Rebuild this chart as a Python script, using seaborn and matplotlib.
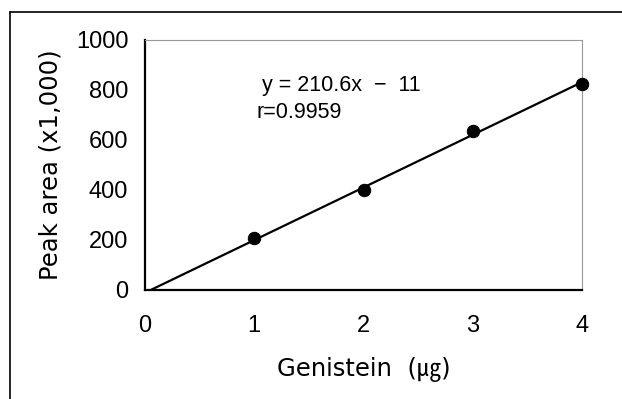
import matplotlib
matplotlib.use("Agg")
import matplotlib.pyplot as plt
import seaborn as sns
import numpy as np
import pandas as pd
from matplotlib.lines import Line2D

# Data
amount_ug = [1, 2, 3, 4]
peak_area = [208, 400, 636, 824]
slope = 210.6
intercept = -11
equation_text = "y = 210.6x  \u2212  11"
r_text = "r=0.9959"
x_ticks = [0, 1, 2, 3, 4]
y_ticks = [0, 200, 400, 600, 800, 1000]
x_label = "Genistein  (\u338d)"
y_label = "Peak area (x1,000)"

df = pd.DataFrame({"amount": amount_ug, "area": peak_area})

sns.set_theme(style="white")
plt.rcParams['font.family'] = ['Liberation Sans', 'Noto Sans CJK KR', 'DejaVu Sans']
plt.rcParams.update({"text.color": "black", "axes.labelcolor": "black",
                     "xtick.color": "black", "ytick.color": "black"})

fig = plt.figure(figsize=(6.22, 3.99), dpi=100)
ax = fig.add_axes([145/622, 1-290/399, (582-145)/622, (290-40)/399])

# regression line from x-intercept to 4
x0 = -intercept / slope
fit = pd.DataFrame({"amount": [x0, 4], "area": [slope*x0 + intercept, slope*4 + intercept]})
sns.lineplot(data=fit, x="amount", y="area", ax=ax, color="black", lw=1.6)
sns.scatterplot(data=df, x="amount", y="area", ax=ax, color="black", s=80,
                edgecolor="black", zorder=5, clip_on=False)

ax.set_xlim(0, 4)
ax.set_ylim(0, 1000)
ax.set_xticks(x_ticks)
ax.set_yticks(y_ticks)
ax.tick_params(direction="in", length=7, width=1.3, color="black", labelcolor="black", labelsize=17)
ax.tick_params(axis="x", pad=18)
ax.tick_params(axis="y", pad=12)
label_font = ['DejaVu Sans', 'Noto Sans CJK KR']
ax.set_xlabel(x_label, fontsize=17.5, family=label_font, color="black")
ax.set_ylabel(y_label, fontsize=17.5, family=label_font, color="black")
ax.xaxis.set_label_coords(0.5, (290-357)/250)
ax.yaxis.set_label_coords((63-145)/437, 0.5)
for s in ["left", "bottom"]:
    ax.spines[s].set_color("black")
    ax.spines[s].set_linewidth(1.6)
for s in ["top", "right"]:
    ax.spines[s].set_color("#999999")
    ax.spines[s].set_linewidth(0.8)

ax.text(1.07, 820, equation_text, fontsize=15.5, va="center", ha="left", color="black")
ax.text(1.02, 712, r_text, fontsize=15.5, va="center", ha="left", color="black")

# outer frame
fig.add_artist(Line2D([10/622, 10/622], [0, 1-12/399], color="black", lw=1.2, transform=fig.transFigure))
fig.add_artist(Line2D([10/622, 1], [1-12/399, 1-12/399], color="black", lw=1.2, transform=fig.transFigure))

fig.savefig("out.png", dpi=100)
